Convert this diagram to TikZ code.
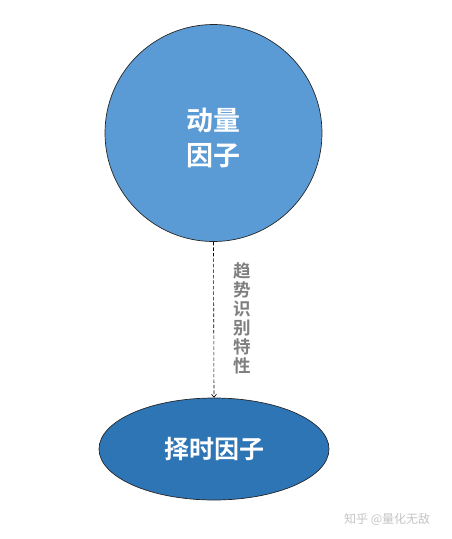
\documentclass[tikz,border=0pt]{standalone}
\usepackage{fontspec}
\newfontfamily\cjk{Noto Sans CJK SC}
\newfontfamily\cjkb{Noto Sans CJK SC Bold}
\usetikzlibrary{arrows.meta,shapes.geometric}
\definecolor{circblue}{HTML}{5B9BD5}
\definecolor{ellblue}{HTML}{2E75B6}
\definecolor{labgrey}{HTML}{7F7F7F}
\definecolor{wmgrey}{HTML}{C4C4C4}
\tikzset{
  blob/.style={draw=black!85, line width=0.7pt, inner sep=0pt, text=white},
  conn/.style={line width=0.6pt, dash pattern=on 3.5pt off 2pt, -{Straight Barb[length=3pt,width=5pt]}},
}
\begin{document}
\begin{tikzpicture}[x=1pt,y=-1pt]
\useasboundingbox (0,0) rectangle (452,539);
\node[blob, circle, fill=circblue, minimum size=217pt] (mom) at (213.5,133) {};
\node[text=white, font=\cjkb\fontsize{27}{35}\selectfont, align=center, inner sep=0pt] (momt) at (213.5,138) {动量\\因子};
\node[blob, ellipse, fill=ellblue, minimum width=230pt, minimum height=102pt, font=\cjkb\fontsize{25}{30}\selectfont] (tim) at (214,449) {择时因子};
\draw[conn] (mom.south) -- (tim.north);
\node[text=labgrey, font=\cjkb\fontsize{17.5}{19}\selectfont, align=center, inner sep=0pt] (lab) at (242,318) {趋\\势\\识\\别\\特\\性};
\node[text=wmgrey, font=\cjk\fontsize{12}{14}\selectfont, inner sep=0pt, anchor=west] (wm) at (344,519) {知乎 @量化无敌};
\end{tikzpicture}
\end{document}
